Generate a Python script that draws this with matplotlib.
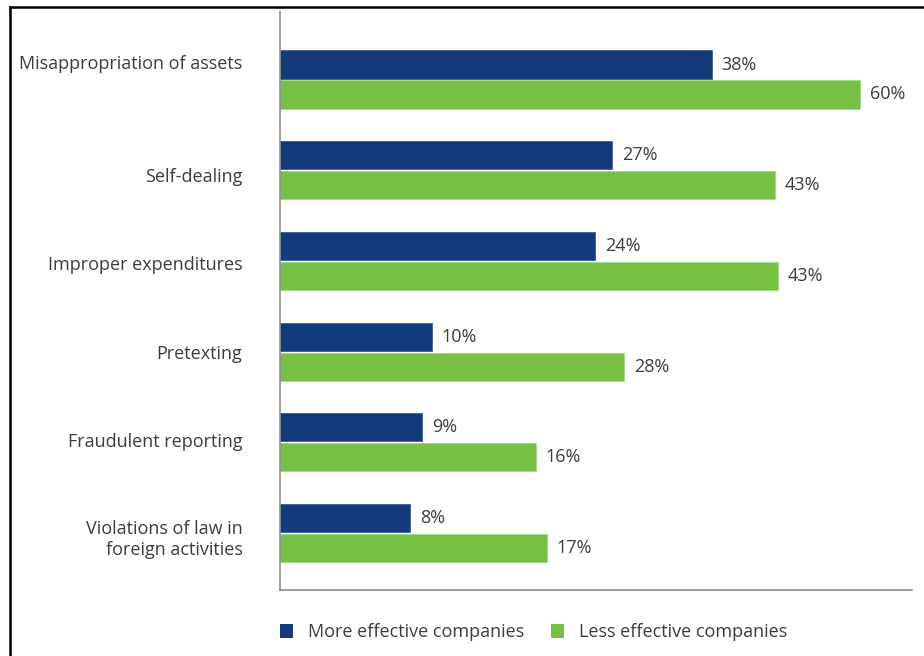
import matplotlib
matplotlib.use('Agg')
import matplotlib.pyplot as plt
from matplotlib.lines import Line2D
from matplotlib.patches import Patch
from matplotlib.transforms import ScaledTranslation
import numpy as np

plt.rcParams['font.family'] = ['Open Sans', 'DejaVu Sans']

## Data
categories = ['Misappropriation of assets', 'Self-dealing', 'Improper expenditures',
              'Pretexting', 'Fraudulent reporting',
              'Violations of law in\nforeign activities']
# printed values
more_pct = [38, 27, 24, 10, 9, 8]
less_pct = [60, 43, 43, 28, 16, 17]
# drawn bar lengths as they appear in the original (not to scale there)
more_len = [44.7, 34.4, 32.6, 15.7, 14.7, 13.5]
less_len = [60.0, 51.2, 51.5, 35.6, 26.5, 27.6]

## Colour scheme
col = {}
col['more'] = '#133a7a'
col['less'] = '#76c043'
col['text'] = '#3c3c3c'
col['axis'] = '#8c8c8c'

fs = 13

fig = plt.figure(figsize=(9.24, 6.56), dpi=100)
ax = fig.add_axes([0.303, 0.1006, 0.684, 0.8811])

y = np.arange(len(categories))
h = 0.31
off = 0.165

ax.barh(y - off, more_len, height=h, color=col['more'], edgecolor='#3f5f95', linewidth=0.6)
ax.barh(y + off, less_len, height=h, color=col['less'], edgecolor='#a5d88a', linewidth=0.6)

for yi, L, p in zip(y, more_len, more_pct):
    ax.annotate(str(p) + '%', (L, yi - off), xytext=(7, 0), textcoords='offset points',
                va='center', ha='left', fontsize=fs, color=col['text'])
for yi, L, p in zip(y, less_len, less_pct):
    ax.annotate(str(p) + '%', (L, yi + off), xytext=(7, 0), textcoords='offset points',
                va='center', ha='left', fontsize=fs, color=col['text'])

ax.set_xlim(0, 65.4)
ax.set_ylim(5.628, -0.744)
ax.set_xticks([])
ax.set_yticks(y)
ax.set_yticklabels(categories, fontsize=fs, color=col['text'], ha='right',
                   multialignment='right')
ax.tick_params(axis='y', length=0, pad=27)

# small nudges of the category labels (pixels, up is positive)
nudge = [17, -5, -2, 0, 2, -3]
for lab, dy in zip(ax.get_yticklabels(), nudge):
    lab.set_transform(lab.get_transform() + ScaledTranslation(0, dy / 100, fig.dpi_scale_trans))

for s in ['top', 'right']:
    ax.spines[s].set_visible(False)
for s in ['left', 'bottom']:
    ax.spines[s].set_color(col['axis'])
    ax.spines[s].set_linewidth(1.2)

handles = [Patch(facecolor=col['more'], label='More effective companies'),
           Patch(facecolor=col['less'], label='Less effective companies')]
fig.legend(handles=handles, loc='center left', bbox_to_anchor=(0.285, 0.036),
           ncol=2, frameon=False, fontsize=fs, handlelength=0.75, handleheight=0.75,
           handletextpad=0.8, columnspacing=1.5, labelcolor=col['text'])

# outer frame (top and left edges)
fig.add_artist(Line2D([0.011, 1.0], [0.990, 0.990], color='black', linewidth=1.8))
fig.add_artist(Line2D([0.011, 0.011], [0.0, 0.990], color='black', linewidth=1.8))

fig.savefig('out.png', dpi=100)
